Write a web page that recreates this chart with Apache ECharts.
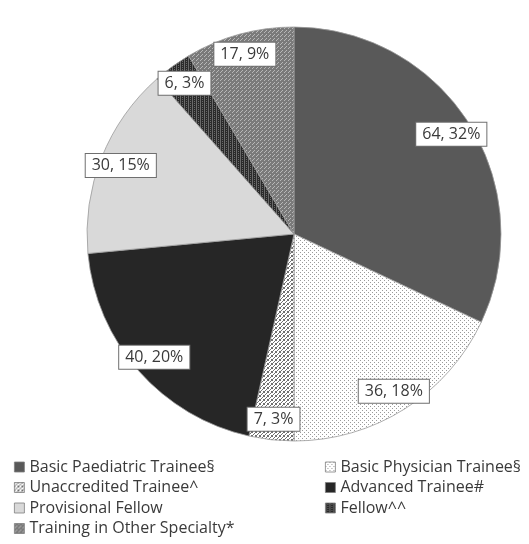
<!DOCTYPE html>
<html>
<head>
<meta charset="UTF-8">
<title></title>
<script src="https://cdn.jsdelivr.net/npm/echarts@6/dist/echarts.min.js"></script>
<style>
html,body{margin:0;padding:0;background:#fff;}
</style>
</head>
<body>
<div id="main" style="width:529px;height:544px;"></div>
<script type="text/javascript">
var categories = ['Basic Paediatric Trainee§', 'Basic Physician Trainee§', 'Unaccredited Trainee^',
	'Advanced Trainee#', 'Provisional Fellow', 'Fellow^^', 'Training in Other Specialty*'];
var counts = [64, 36, 7, 40, 30, 6, 17];
var percents = [32, 18, 3, 20, 15, 3, 9];
var leftCol = ['Basic Paediatric Trainee§', 'Unaccredited Trainee^', 'Provisional Fellow', 'Training in Other Specialty*'];
var rightCol = ['Basic Physician Trainee§', 'Advanced Trainee#', 'Fellow^^'];

// little tiles for the excel-like fill patterns
function tile(size, bg, fg, pts) {
	var c = document.createElement('canvas');
	c.width = size; c.height = size;
	var ctx = c.getContext('2d');
	ctx.fillStyle = bg;
	ctx.fillRect(0, 0, size, size);
	ctx.fillStyle = fg;
	for (var i = 0; i < pts.length; i++) {
		ctx.fillRect(pts[i][0], pts[i][1], 1, 1);
	}
	return {image: c, repeat: 'repeat'};
}

var fills = [
	'#595959',
	tile(4, '#ffffff', '#9a9a9a', [[0, 0], [2, 2]]),
	tile(4, '#ffffff', '#707070', [[3, 0], [2, 1], [1, 2], [0, 3], [0, 0], [3, 3]]),
	'#262626',
	'#d9d9d9',
	tile(4, '#2a2a2a', '#6a6a6a', [[0, 0], [0, 1], [0, 2], [0, 3], [2, 1], [2, 3]]),
	tile(4, '#7a7a7a', '#b8b8b8', [[0, 0], [2, 2], [1, 3]])
];

var pieData = [];
for (var i = 0; i < categories.length; i++) {
	pieData.push({
		name: categories[i],
		value: counts[i],
		itemStyle: {color: fills[i]}
	});
}

var total = 0;
for (var i = 0; i < counts.length; i++) total += counts[i];

var cx = 294, cy = 234, R = 207;
var font = 'Open Sans';

function legendCol(left, names) {
	return {
		orient: 'vertical',
		left: left,
		top: 459,
		padding: 0,
		itemWidth: 10,
		itemHeight: 10,
		itemGap: 4.5,
		icon: 'rect',
		selectedMode: false,
		data: names,
		itemStyle: {borderColor: '#7f7f7f', borderWidth: 0.8},
		textStyle: {fontFamily: font, fontSize: 16, lineHeight: 16, color: '#3a3a3a', padding: [0, 0, 0, 0]}
	};
}

var myChart = echarts.init(document.getElementById('main'));
myChart.setOption({
	animation: false,
	legend: [legendCol(14, leftCol), legendCol(325, rightCol)],
	series: [{
		type: 'pie',
		center: [cx, cy],
		radius: [0, R],
		startAngle: 90,
		clockwise: true,
		avoidLabelOverlap: false,
		itemStyle: {borderColor: '#9a9a9a', borderWidth: 0.8},
		label: {
			show: true,
			position: 'inside',
			formatter: function (p) {
				return counts[p.dataIndex] + ', ' + percents[p.dataIndex] + '%';
			},
			fontFamily: font,
			fontSize: 16,
			color: '#3a3a3a',
			backgroundColor: '#ffffff',
			borderColor: '#6f6f6f',
			borderWidth: 1,
			padding: [4, 6, 3, 6]
		},
		labelLine: {show: false},
		labelLayout: function (p) {
			var idx = p.dataIndex;
			var before = 0;
			for (var k = 0; k < idx; k++) before += counts[k];
			var mid = (before + counts[idx] / 2) / total * Math.PI * 2;
			var r = R * 0.9;
			return {
				x: cx + r * Math.sin(mid),
				y: cy - r * Math.cos(mid),
				align: 'center',
				verticalAlign: 'middle'
			};
		},
		data: pieData
	}]
});
</script>
</body>
</html>
